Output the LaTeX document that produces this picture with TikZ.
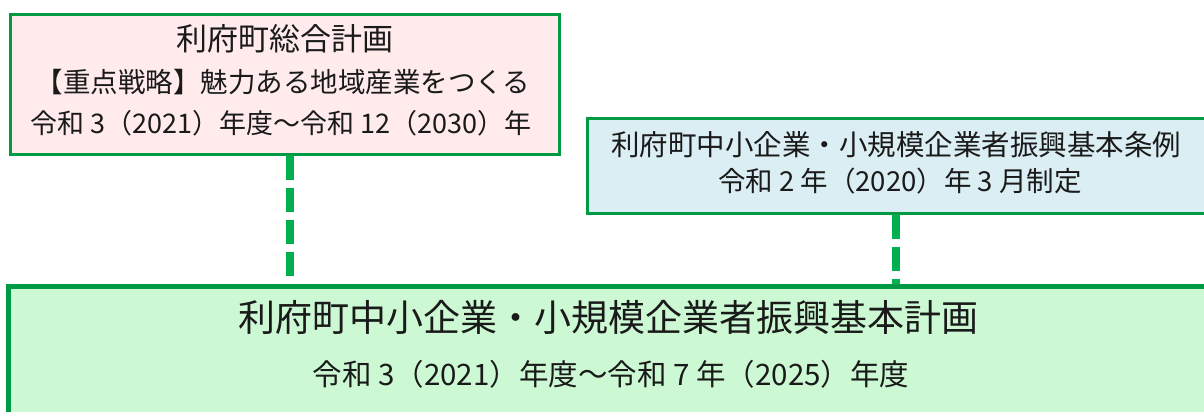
\documentclass[tikz,border=0pt]{standalone}
\usepackage{fontspec}
\newfontfamily\jp{Noto Sans CJK JP}
\definecolor{boxline}{HTML}{009944}
\definecolor{dashgreen}{HTML}{00B050}
\definecolor{pinkfill}{HTML}{FFEBEB}
\definecolor{bluefill}{HTML}{DAEEF3}
\definecolor{greenfill}{HTML}{CCF9D4}
\definecolor{ink}{HTML}{1A1A1A}
\begin{document}
\begin{tikzpicture}[x=1pt,y=-1pt,
  box/.style={draw=boxline, line width=3pt, rectangle, inner sep=0pt},
  bigbox/.style={draw=boxline, line width=5pt, rectangle, inner sep=0pt},
  txt/.style={text=ink, inner sep=0pt, text height=0.83em, text depth=0.07em, anchor=center},
  conn/.style={draw=dashgreen, line width=8pt, dash pattern=on 24pt off 8pt}
]
\useasboundingbox (0,0) rectangle (1204,412);
\clip (0,0) rectangle (1204,412);
\fill[white] (0,0) rectangle (1204,412);

% boxes
\node[box, fill=pinkfill, minimum width=548.5pt, minimum height=140pt] (sogo) at (284.75,84.5) {};
\node[box, fill=bluefill, minimum width=618pt, minimum height=95pt] (jorei) at (896,165.5) {};
\node[bigbox, fill=greenfill, minimum width=1199.5pt, minimum height=133.5pt] (kihon) at (608.25,353.25) {};

% texts
\node[txt, font=\jp\fontsize{31}{37}\selectfont] (sogoA) at (284.75,46.5) {利府町総合計画};
\node[txt, font=\jp\fontsize{27.5}{33}\selectfont] (sogoB) at (283,88.5) {【重点戦略】魅力ある地域産業をつくる};
\node[txt, font=\jp\fontsize{27}{32}\selectfont] (sogoC) at (281,129.5) {令和 3（2021）年度～令和 12（2030）年};

\node[txt, font=\jp\fontsize{28.5}{34}\selectfont] (joreiA) at (896,151.5) {利府町中小企業・小規模企業者振興基本条例};
\node[txt, font=\jp\fontsize{27.5}{33}\selectfont] (joreiB) at (900,188) {令和 2 年（2020）年 3 月制定};

\node[txt, font=\jp\fontsize{37}{44}\selectfont] (kihonA) at (608,327.5) {利府町中小企業・小規模企業者振興基本計画};
\node[txt, font=\jp\fontsize{29.5}{35}\selectfont] (kihonB) at (611,381.5) {令和 3（2021）年度～令和 7 年（2025）年度};

% connectors
\coordinate (c1) at ([xshift=5.25pt]sogo.south);
\coordinate (c2) at (jorei.south);
\draw[conn] (c1) -- (c1 |- kihon.north);
\draw[conn] (c2) -- (c2 |- kihon.north);
\end{tikzpicture}
\end{document}
